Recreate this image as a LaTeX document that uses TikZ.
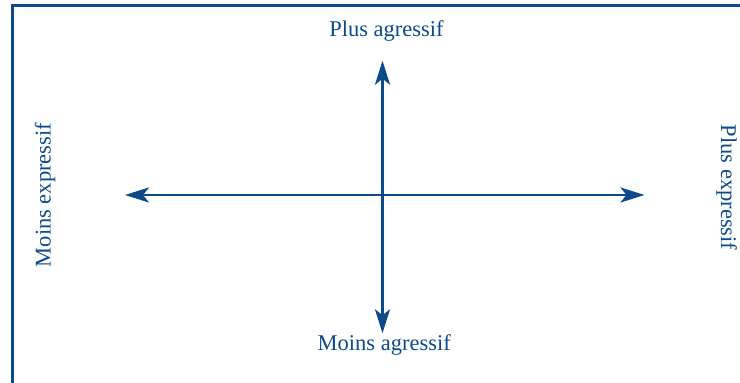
\documentclass[tikz,border=0pt]{standalone}
\usepackage{fontspec}
\setmainfont{Liberation Serif}
\usetikzlibrary{arrows.meta}
\definecolor{navy}{RGB}{12,74,138}
\begin{document}
\begin{tikzpicture}[x=1pt,y=1pt,
  tip/.style={Stealth[length=24pt,width=15pt,inset=6pt]},
  axis/.style={draw=navy,line width=2.7pt,{Stealth[length=24pt,width=15pt,inset=6pt]}-{Stealth[length=24pt,width=15pt,inset=6pt]}},
  label/.style={text=navy,font=\fontsize{22.5}{26}\selectfont,inner sep=0pt,anchor=base}]
\useasboundingbox (0,0) rectangle (740,383);
\clip (0,0) rectangle (740,383);
% frame (only its top and left sides fall inside the page)
\draw[navy,line width=2.8pt] (12.3,-20) rectangle (780,377.5);
% axis end points
\coordinate (west) at (125,188);
\coordinate (east) at (644.5,188);
\coordinate (north) at (382.5,322.3);
\coordinate (south) at (382.5,49.7);
\draw[axis] (west) -- (east);
\draw[axis] (south) -- (north);
% labels
\node[label] (top) at (386.5,346.3) {Plus agressif};
\node[label] (bottom) at (384.2,32.5) {Moins agressif};
\node[label,rotate=90] (left) at (50.7,188) {Moins expressif};
\node[label,rotate=-90] (right) at (721,195.5) {Plus expressif};
\end{tikzpicture}
\end{document}
